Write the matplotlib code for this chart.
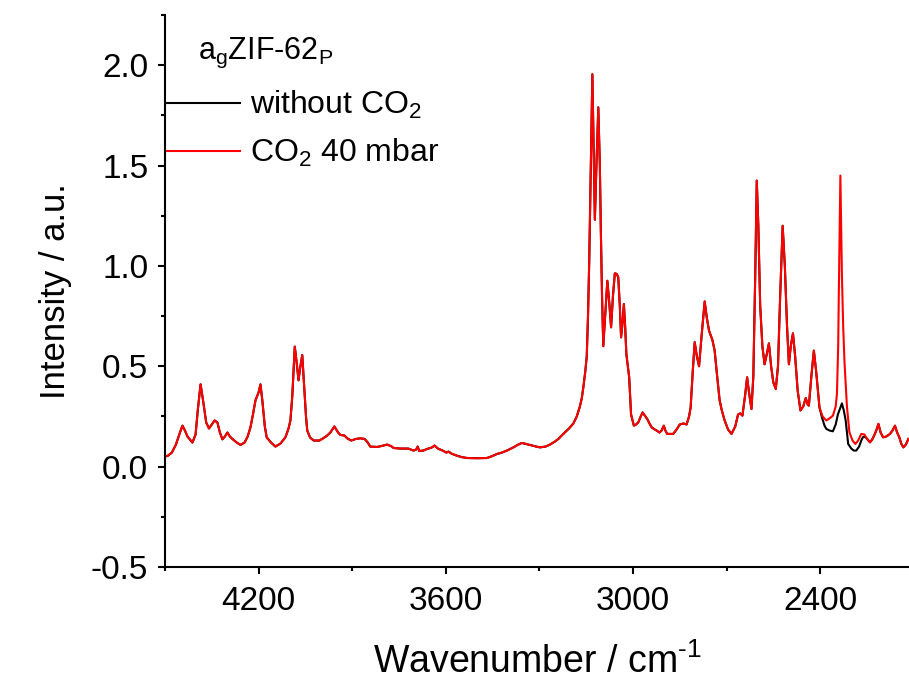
import numpy as np
import matplotlib
matplotlib.use('Agg')
import matplotlib.pyplot as plt
from matplotlib.ticker import MultipleLocator

plt.rcParams['font.family'] = 'Liberation Sans'
plt.rcParams['mathtext.fontset'] = 'custom'
plt.rcParams['mathtext.rm'] = 'Liberation Sans'
plt.rcParams['mathtext.it'] = 'Liberation Sans:italic'
plt.rcParams['axes.unicode_minus'] = False

# wavenumber (cm-1) and intensity, CO2 40 mbar (red)
wn = [4500, 4490, 4478, 4465, 4452, 4444, 4436, 4428, 4420, 4412, 4402, 4395, 4386, 4378, 4368,
      4359, 4350, 4341, 4332, 4324, 4316, 4308, 4300, 4292, 4284, 4270, 4258, 4245, 4235, 4226,
      4218, 4210, 4200, 4194, 4188, 4180, 4174, 4160, 4146, 4130, 4114, 4104, 4098, 4092, 4084,
      4078, 4072, 4066, 4060, 4054, 4048, 4044, 4035, 4023, 4005, 3991, 3980, 3970, 3957, 3945,
      3938, 3925, 3915, 3903, 3888, 3874, 3860, 3850, 3842, 3820, 3800, 3788, 3775, 3767, 3746,
      3720, 3703, 3695, 3690, 3685, 3672, 3660, 3645, 3636, 3625, 3610, 3598, 3591, 3582, 3565,
      3550, 3532, 3500, 3468, 3450, 3436, 3420, 3404, 3383, 3370, 3356, 3340, 3330, 3310, 3298,
      3280, 3266, 3250, 3239, 3225, 3218, 3205, 3191, 3180, 3170, 3164, 3159, 3153, 3148, 3144,
      3140, 3135, 3130, 3126, 3122, 3117, 3111, 3106, 3103, 3099, 3095, 3088, 3082, 3076, 3070,
      3064, 3058, 3052, 3047, 3042, 3038, 3033, 3029, 3025, 3021, 3012, 3006, 2997, 2990, 2983,
      2975, 2969, 2962, 2954, 2947, 2940, 2930, 2924, 2915, 2908, 2901, 2896, 2890, 2871, 2860,
      2850, 2838, 2828, 2820, 2815, 2808, 2802, 2795, 2788, 2780, 2770, 2763, 2756, 2745, 2738,
      2730, 2722, 2715, 2706, 2695, 2684, 2672, 2663, 2656, 2649, 2640, 2634, 2627, 2620, 2614,
      2608, 2603, 2598, 2592, 2585, 2578, 2571, 2564, 2557, 2550, 2542, 2535, 2528, 2520, 2513,
      2506, 2500, 2494, 2487, 2480, 2472, 2463, 2454, 2446, 2440, 2436, 2428, 2420, 2413, 2406,
      2402, 2392, 2380, 2370, 2359, 2350, 2346, 2342, 2340, 2335, 2330, 2326, 2322, 2314, 2306,
      2296, 2287, 2278, 2268, 2258, 2250, 2240, 2233, 2227, 2220, 2213, 2206, 2198, 2188, 2176,
      2168, 2160, 2153, 2146, 2140, 2133, 2125, 2117]
co2_40 = [0.05, 0.055, 0.07, 0.11, 0.17, 0.204, 0.18, 0.15, 0.135, 0.12, 0.16, 0.28, 0.41, 0.33, 0.22,
          0.19, 0.21, 0.23, 0.22, 0.17, 0.136, 0.15, 0.17, 0.15, 0.138, 0.12, 0.108, 0.12, 0.15, 0.196,
          0.26, 0.33, 0.37, 0.41, 0.33, 0.2, 0.146, 0.12, 0.10, 0.115, 0.146, 0.19, 0.23, 0.35, 0.598,
          0.52, 0.43, 0.5, 0.556, 0.4, 0.25, 0.18, 0.145, 0.13, 0.13, 0.143, 0.155, 0.17, 0.20, 0.17,
          0.158, 0.155, 0.14, 0.13, 0.138, 0.141, 0.138, 0.12, 0.10, 0.098, 0.105, 0.11, 0.102, 0.093, 0.09,
          0.09, 0.08, 0.085, 0.10, 0.078, 0.08, 0.088, 0.095, 0.105, 0.09, 0.08, 0.07, 0.075, 0.065, 0.055,
          0.048, 0.043, 0.042, 0.043, 0.053, 0.063, 0.07, 0.08, 0.096, 0.108, 0.118, 0.112, 0.108, 0.1, 0.096,
          0.1, 0.11, 0.125, 0.138, 0.16, 0.171, 0.19, 0.215, 0.25, 0.3, 0.34, 0.395, 0.47, 0.55, 0.75,
          1.03, 1.5, 1.955, 1.6, 1.23, 1.5, 1.79, 1.5, 1.19, 0.85, 0.60, 0.78, 0.926, 0.82, 0.694,
          0.85, 0.963, 0.96, 0.943, 0.8, 0.644, 0.72, 0.81, 0.7, 0.56, 0.445, 0.26, 0.204, 0.21, 0.22,
          0.25, 0.27, 0.255, 0.237, 0.215, 0.196, 0.185, 0.18, 0.17, 0.18, 0.204, 0.18, 0.163, 0.163, 0.185,
          0.21, 0.215, 0.21, 0.25, 0.295, 0.48, 0.62, 0.55, 0.50, 0.65, 0.823, 0.74, 0.677, 0.63, 0.578,
          0.45, 0.33, 0.28, 0.23, 0.185, 0.163, 0.2, 0.26, 0.265, 0.254, 0.36, 0.445, 0.36, 0.287, 0.45,
          0.95, 1.425, 1.2, 0.8, 0.6, 0.51, 0.56, 0.614, 0.5, 0.42, 0.387, 0.5, 0.85, 1.20, 1.0,
          0.7, 0.51, 0.6, 0.664, 0.55, 0.38, 0.28, 0.3, 0.342, 0.31, 0.304, 0.45, 0.578, 0.48, 0.36,
          0.295, 0.25, 0.23, 0.24, 0.254, 0.3, 0.362, 0.6, 0.86, 1.45, 0.95, 0.7, 0.528, 0.3, 0.171,
          0.13, 0.113, 0.13, 0.163, 0.16, 0.14, 0.121, 0.135, 0.154, 0.18, 0.213, 0.17, 0.146, 0.15, 0.163,
          0.18, 0.204, 0.17, 0.146, 0.115, 0.096, 0.11, 0.138]

# without CO2 (black): same as red outside 2402-2250, differs inside
wn_black_seg = [2402, 2394, 2386, 2380, 2370, 2359, 2350, 2343, 2336, 2330, 2324, 2318, 2314, 2310,
                2300, 2292, 2284, 2275, 2268, 2263, 2258, 2250]
no_co2_seg = [0.295, 0.245, 0.205, 0.188, 0.18, 0.176, 0.21, 0.26, 0.29, 0.315, 0.28, 0.23, 0.17, 0.113,
              0.09, 0.08, 0.08, 0.1, 0.13, 0.146, 0.15, 0.14]

wn_a = np.array(wn)
red_a = np.array(co2_40)
hi = wn_a > 2402
lo = wn_a < 2250
wn_black = np.concatenate([wn_a[hi], wn_black_seg, wn_a[lo]])
no_co2 = np.concatenate([red_a[hi], no_co2_seg, red_a[lo]])

fig = plt.figure(figsize=(9.09, 6.93), dpi=100)
ax = fig.add_axes([165/909, 1-567/693, 1-165/909, (567-15)/693])

ax.plot(wn_black, no_co2, color='black', lw=1.5, label='without CO$_2$')
ax.plot(wn_a, red_a, color='#ff0000', lw=1.5, label='CO$_2$ 40 mbar')

ax.set_xlim(4500, 2115)
ax.set_ylim(-0.5, 2.25)
ax.xaxis.set_major_locator(MultipleLocator(600))
ax.xaxis.set_minor_locator(MultipleLocator(300))
ax.yaxis.set_major_locator(MultipleLocator(0.5))
ax.yaxis.set_minor_locator(MultipleLocator(0.25))
ax.yaxis.set_major_formatter(plt.FormatStrFormatter('%.1f'))

for s in ['top', 'right']:
    ax.spines[s].set_visible(False)
for s in ['left', 'bottom']:
    ax.spines[s].set_linewidth(1.5)

ax.tick_params(which='major', direction='out', length=5, width=1.5, labelsize=24)
ax.tick_params(which='minor', direction='out', length=3, width=1.5)
ax.tick_params(axis='x', which='major', pad=9)
ax.tick_params(axis='y', which='major', pad=7)

ax.set_xlabel('Wavenumber / cm$^{\\mathrm{\u2010}1}$', fontsize=27, labelpad=19)
ax.set_ylabel('Intensity / a.u.', fontsize=25, labelpad=14)

ax.text(198/909, 1-53/693, 'a$_\\mathrm{g}$ZIF-62$_\\mathrm{P}$', transform=fig.transFigure,
        fontsize=22, va='center', ha='left')
ax.legend(loc='upper left', bbox_to_anchor=(167/909, 1-89/693), bbox_transform=fig.transFigure,
          frameon=False, fontsize=23, handlelength=2.3, handletextpad=0.3,
          borderpad=0, borderaxespad=0, labelspacing=0.5)

fig.savefig('out.png', dpi=100)
